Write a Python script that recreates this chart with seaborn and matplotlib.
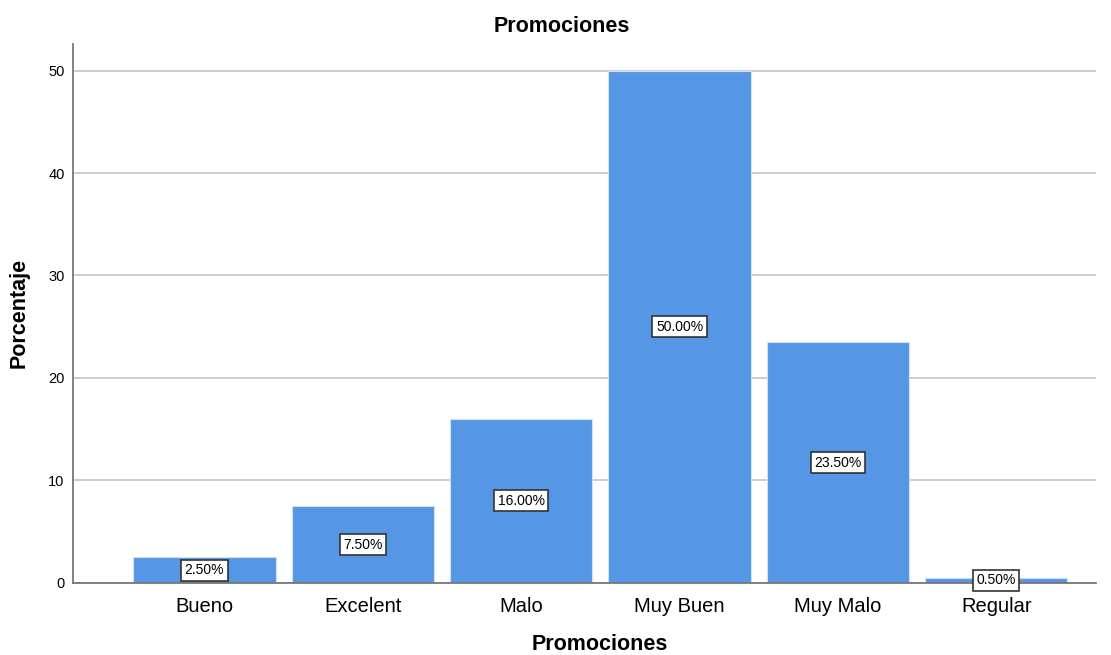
import matplotlib
matplotlib.use("Agg")
import matplotlib.pyplot as plt
import seaborn as sns
import pandas as pd

# Datos
categorias = ["Bueno", "Excelent", "Malo", "Muy Buen", "Muy Malo", "Regular"]
porcentajes = [2.5, 7.5, 16.0, 50.0, 23.5, 0.5]
yticks = [0, 10, 20, 30, 40, 50]

df = pd.DataFrame({"Promociones": categorias, "Porcentaje": porcentajes})

sns.set_style("white")
plt.rcParams["font.family"] = ["Liberation Sans", "DejaVu Sans"]
plt.rcParams["text.color"] = "black"
plt.rcParams["axes.labelcolor"] = "black"
plt.rcParams["xtick.color"] = "black"
plt.rcParams["ytick.color"] = "black"

fig = plt.figure(figsize=(11.11, 6.55), dpi=100)
ax = fig.add_axes([0.0657, 0.110, 0.9208, 0.823])

sns.barplot(data=df, x="Promociones", y="Porcentaje", color="#5596E5",
            saturation=1, width=0.9, edgecolor="#cfe0f7", linewidth=0.8, ax=ax)

for i, v in enumerate(porcentajes):
    ax.text(i, v / 2, f"{v:.2f}%", ha="center", va="center", fontsize=10,
            bbox=dict(boxstyle="square,pad=0.25", fc="white", ec="#333333", lw=1.2))

ax.set_ylim(0, 52.6)
ax.set_xlim(-0.83, 5.63)
ax.set_yticks(yticks)
ax.yaxis.grid(True, color="#c8c8c8", linewidth=1.3)
ax.set_axisbelow(True)
for s in ["top", "right"]:
    ax.spines[s].set_visible(False)
ax.spines["left"].set_color("#777777")
ax.spines["bottom"].set_color("#777777")
ax.spines["left"].set_linewidth(1.3)
ax.spines["bottom"].set_linewidth(1.3)

ax.tick_params(axis="y", labelsize=10.5, length=0, pad=6)
ax.tick_params(axis="x", labelsize=14.5, length=0, pad=10)
ax.set_xlabel("")
ax.set_ylabel("")
fig.text(562 / 1111, 1 - 27 / 655, "Promociones", fontsize=15.5,
         fontweight="bold", ha="center", va="center")
fig.text(600 / 1111, 1 - 644 / 655, "Promociones", fontsize=15.5,
         fontweight="bold", ha="center", va="center")
fig.text(19 / 1111, 1 - 313 / 655, "Porcentaje", fontsize=15.5,
         fontweight="bold", ha="center", va="center", rotation=90)

fig.savefig("out.png", dpi=100)
